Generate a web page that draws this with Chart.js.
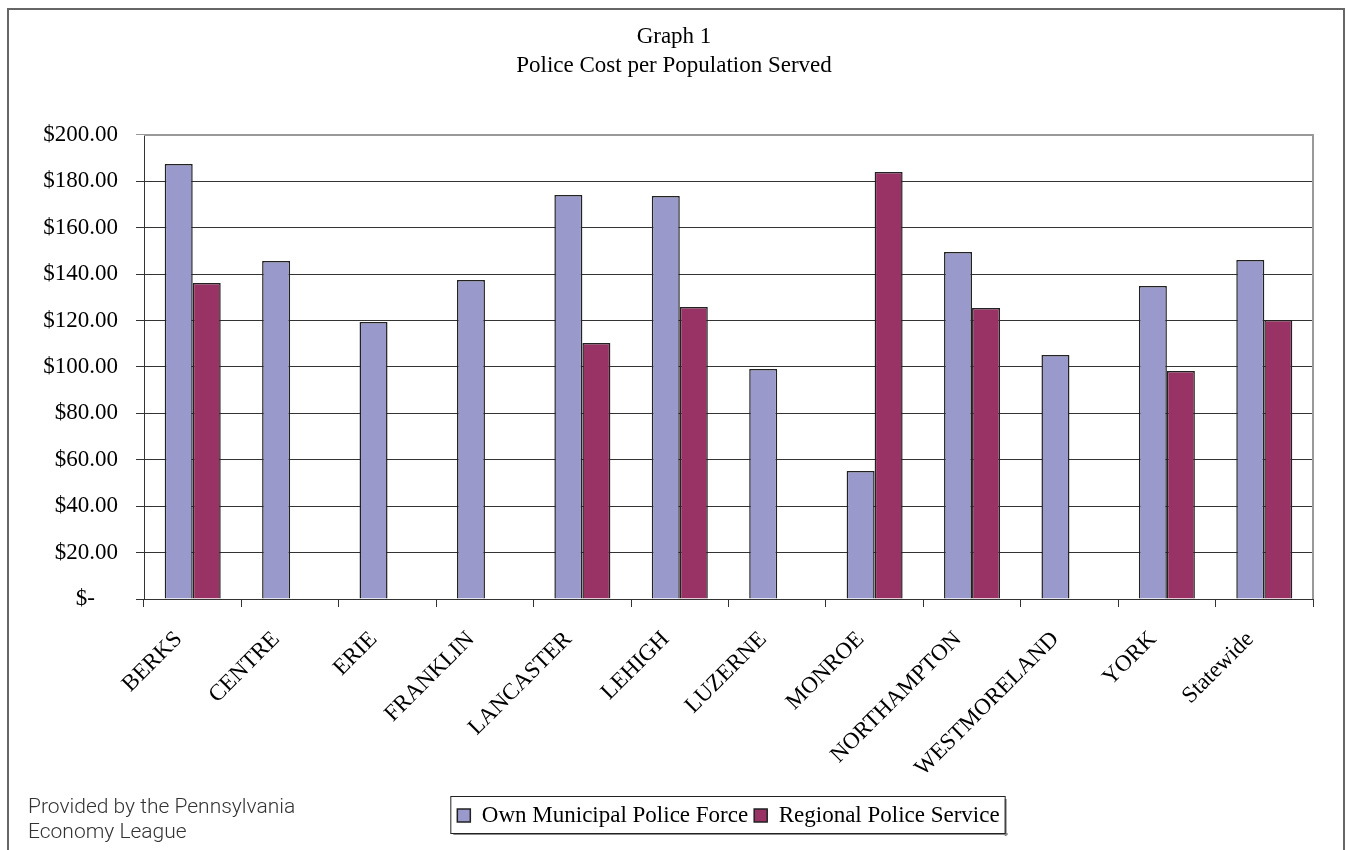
<!DOCTYPE html>
<html>
<head>
<meta charset="utf-8">
<script src="https://cdn.jsdelivr.net/npm/chart.js"></script>
<style>
  html, body { margin: 0; padding: 0; background: #fff; }
  #wrap { position: relative; width: 1348px; height: 850px; overflow: hidden; }
  #frame { position: absolute; left: 7px; top: 8px; width: 1338px; height: 900px; border: 2px solid #666; box-sizing: border-box; }
  #myChart { position: absolute; left: 0; top: 0; }
  .source { position: absolute; left: 28px; top: 794px; font-family: "Roboto", "Liberation Sans", sans-serif; font-weight: 300; font-size: 21px; line-height: 25px; color: #333; }
</style>
</head>
<body>
<div id="wrap">
  <div id="frame"></div>
  <canvas id="myChart" width="1348" height="850"></canvas>
  <div class="source">Provided by the Pennsylvania<br>Economy League</div>
</div>
<script>
const counties = ["BERKS", "CENTRE", "ERIE", "FRANKLIN", "LANCASTER", "LEHIGH", "LUZERNE", "MONROE", "NORTHAMPTON", "WESTMORELAND", "YORK", "Statewide"];
const ownForce = [187.5, 145.7, 119.4, 137.5, 174.1, 173.7, 99.1, 55.2, 149.6, 105.2, 134.9, 146.1];
const regionalService = [136.2, null, null, null, 110.3, 125.9, null, 184.0, 125.4, null, 98.3, 120.3];
const titleLines = ["Graph 1", "Police Cost per Population Served"];

const serif = "'Liberation Serif', 'Times New Roman', serif";

// gray top and right edges of the plot area, plus a box around the legend
const plotFrame = {
  id: "plotFrame",
  beforeDatasetsDraw(chart) {
    const { ctx, chartArea } = chart;
    ctx.save();
    ctx.strokeStyle = "#999";
    ctx.lineWidth = 2;
    ctx.beginPath();
    ctx.moveTo(chartArea.left, chartArea.top);
    ctx.lineTo(chartArea.right, chartArea.top);
    ctx.lineTo(chartArea.right, chartArea.bottom);
    ctx.stroke();
    ctx.restore();
  },
  afterDraw(chart) {
    const boxes = chart.legend.legendHitBoxes;
    if (!boxes || !boxes.length) return;
    let left = Infinity, right = -Infinity, top = Infinity, bottom = -Infinity;
    boxes.forEach((b) => {
      left = Math.min(left, b.left);
      right = Math.max(right, b.left + b.width);
      top = Math.min(top, b.top);
      bottom = Math.max(bottom, b.top + b.height);
    });
    const ctx = chart.ctx;
    const x = left - 7, y = top - 8, w = right - left + 12, h = bottom - top + 14;
    ctx.save();
    ctx.fillStyle = "#888";
    ctx.fillRect(x + 3, y + h, w, 2);
    ctx.fillRect(x + w, y + 3, 2, h);
    ctx.strokeStyle = "#222";
    ctx.lineWidth = 1;
    ctx.strokeRect(x + 0.5, y + 0.5, w, h);
    ctx.restore();
  },
};

const ctx = document.getElementById("myChart").getContext("2d");

const data = {
  labels: counties,
  datasets: [
    {
      label: "Own Municipal Police Force",
      data: ownForce,
      backgroundColor: "#9999cc",
      borderColor: "#222",
      borderWidth: 1.5,
    },
    {
      label: "Regional Police Service",
      data: regionalService,
      backgroundColor: "#993366",
      borderColor: "#222",
      borderWidth: 1.5,
    },
  ],
};

const config = {
  type: "bar",
  data: data,
  plugins: [plotFrame],
  options: {
    responsive: false,
    animation: false,
    categoryPercentage: 0.575,
    barPercentage: 1,
    layout: { padding: { left: 0, right: 0, top: 0, bottom: 13 } },
    plugins: {
      title: {
        display: true,
        text: titleLines,
        color: "#000",
        font: { family: serif, size: 23, weight: "normal", lineHeight: 1.26 },
        padding: { top: 22, bottom: 55 },
      },
      legend: {
        position: "bottom",
        fullSize: false,
        labels: {
          color: "#000",
          font: { family: serif, size: 23 },
          boxWidth: 13,
          boxHeight: 13,
          padding: 6,
        },
      },
      tooltip: { enabled: false },
    },
    scales: {
      x: {
        afterFit(scale) { scale.height = 199; },
        grid: { drawOnChartArea: false, drawTicks: true, tickLength: 8, color: "#333" },
        border: { color: "#333", width: 1 },
        ticks: {
          color: "#000",
          font: { family: serif, size: 23 },
          minRotation: 45,
          maxRotation: 45,
          autoSkip: false,
          padding: 19,
          labelOffset: -14,
        },
      },
      y: {
        min: 0,
        max: 200,
        afterFit(scale) { scale.width = 144; },
        grid: {
          color: (c) => (c.tick && c.tick.value === 200 ? "#999" : "#333"),
          tickLength: 8,
        },
        border: { color: "#333", width: 1 },
        ticks: {
          stepSize: 20,
          color: "#000",
          font: { family: serif, size: 23 },
          padding: 18,
          callback: (v) => (v === 0 ? "$-    " : "$" + v.toFixed(2)),
        },
      },
      // empty spacer on the right so the title stays centred on the page
      spacer: {
        position: "right",
        display: true,
        afterFit(scale) { scale.width = 35; },
        grid: { display: false },
        border: { display: false },
        ticks: { display: false },
      },
    },
  },
};

const myChart = new Chart(ctx, config);
</script>
</body>
</html>
